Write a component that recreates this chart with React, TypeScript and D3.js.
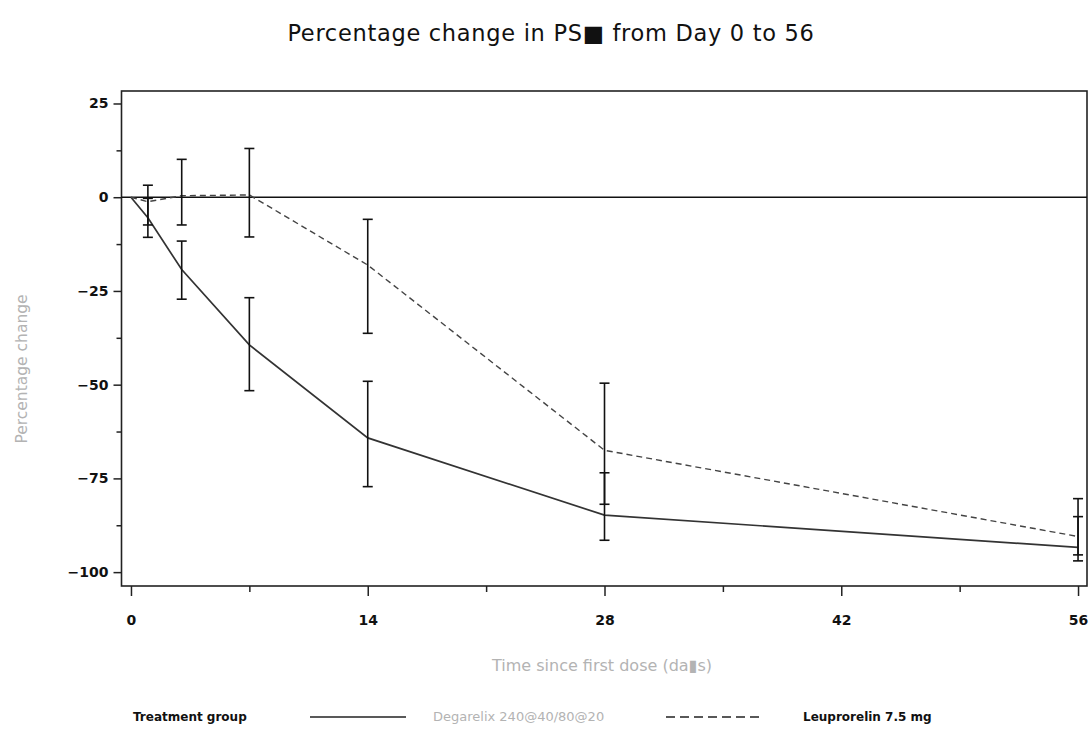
import { useEffect, useRef } from 'react';
import * as d3 from 'd3';

// data
const days = [0, 1, 3, 7, 14, 28, 56];

const degMean = [0, -5.5, -19.3, -39.4, -64.2, -84.8, -93.4];
const degLow = [null, -10.7, -27.2, -51.6, -77.2, -91.5, -97.0];
const degHigh = [null, -0.3, -11.7, -26.8, -49.1, -73.5, -85.2];

const leuMean = [0, -1.2, 0.4, 0.6, -18.1, -67.5, -90.5];
const leuLow = [null, -7.4, -7.4, -10.6, -36.3, -81.9, -95.4];
const leuHigh = [null, 3.2, 10.1, 13.0, -5.9, -49.6, -80.4];

const xTicks = [0, 14, 28, 42, 56];
const xMinorTicks = [7, 21, 35, 49];
const yTicks = [-100, -75, -50, -25, 0, 25];
const yMinorTicks = [-87.5, -62.5, -37.5, -12.5, 12.5];

const title = 'Percentage change in PS\u25A0 from Day 0 to 56';
const xLabel = 'Time since first dose (da\u25AEs)';
const yLabel = 'Percentage change';
const legendTitle = 'Treatment group';
const seriesNames = ['Degarelix 240@40/80@20', 'Leuprorelin 7.5 mg'];

const FONT = '"DejaVu Sans", sans-serif';

function App() {
  const svgRef = useRef<SVGSVGElement>(null);

  useEffect(() => {
    const W = 1090,
      H = 729;
    const plot = { left: 121.5, right: 1087, top: 91, bottom: 586 };

    const svg = d3.select(svgRef.current);
    svg.selectAll('*').remove();
    svg.attr('width', W).attr('height', H);

    const x = d3.scaleLinear().domain([-0.56, 56.53]).range([plot.left, plot.right]);
    const y = d3.scaleLinear().domain([-103.7, 28.33]).range([plot.bottom, plot.top]);

    // title
    svg
      .append('text')
      .attr('x', 551)
      .attr('y', 41)
      .attr('text-anchor', 'middle')
      .style('font-family', FONT)
      .style('font-size', '22.5px')
      .style('letter-spacing', '0.7px')
      .attr('fill', '#111')
      .text(title);

    // y axis
    const yAxis = svg
      .append('g')
      .attr('transform', `translate(${plot.left}, 0)`)
      .call(d3.axisLeft(y).tickValues(yTicks).tickSize(8).tickPadding(5).tickSizeOuter(0));
    const yMinor = svg
      .append('g')
      .attr('transform', `translate(${plot.left}, 0)`)
      .call(d3.axisLeft(y).tickValues(yMinorTicks).tickSize(5).tickFormat(() => '').tickSizeOuter(0));

    // x axis
    const xAxis = svg
      .append('g')
      .attr('transform', `translate(0, ${plot.bottom})`)
      .call(d3.axisBottom(x).tickValues(xTicks).tickSize(10).tickPadding(19).tickSizeOuter(0));
    const xMinor = svg
      .append('g')
      .attr('transform', `translate(0, ${plot.bottom})`)
      .call(d3.axisBottom(x).tickValues(xMinorTicks).tickSize(6).tickFormat(() => '').tickSizeOuter(0));

    [yAxis, yMinor, xAxis, xMinor].forEach((g) => {
      g.select('.domain').remove();
      g.selectAll('line').attr('stroke', '#222').attr('stroke-width', 1.5);
      g.selectAll('text')
        .style('font-family', FONT)
        .style('font-size', '14px')
        .style('font-weight', 'bold')
        .attr('fill', '#111');
    });

    // frame
    svg
      .append('rect')
      .attr('x', plot.left)
      .attr('y', plot.top)
      .attr('width', plot.right - plot.left)
      .attr('height', plot.bottom - plot.top)
      .attr('fill', 'none')
      .attr('stroke', '#222')
      .attr('stroke-width', 1.6);

    // zero reference line
    svg
      .append('line')
      .attr('x1', plot.left)
      .attr('x2', plot.right)
      .attr('y1', y(0))
      .attr('y2', y(0))
      .attr('stroke', '#111')
      .attr('stroke-width', 1.5);

    // axis labels
    svg
      .append('text')
      .attr('x', 602)
      .attr('y', 671)
      .attr('text-anchor', 'middle')
      .style('font-family', FONT)
      .style('font-size', '16px')
      .attr('fill', '#b3b3b3')
      .text(xLabel);

    svg
      .append('text')
      .attr('transform', `translate(27, 369) rotate(-90)`)
      .attr('text-anchor', 'middle')
      .style('font-family', FONT)
      .style('font-size', '15.5px')
      .attr('fill', '#b3b3b3')
      .text(yLabel);

    const series = [
      { mean: degMean, low: degLow, high: degHigh, dash: null, color: '#333', width: 1.7 },
      { mean: leuMean, low: leuLow, high: leuHigh, dash: '6,4', color: '#444', width: 1.4 },
    ];

    series.forEach((s) => {
      const pts = days.map((d, i) => ({ d, v: s.mean[i] }));
      const line = d3
        .line<{ d: number; v: number }>()
        .x((p) => x(p.d))
        .y((p) => y(p.v));
      svg
        .append('path')
        .datum(pts)
        .attr('d', line)
        .attr('fill', 'none')
        .attr('stroke', s.color)
        .attr('stroke-width', s.width)
        .attr('stroke-dasharray', s.dash);

      const bars = days
        .map((d, i) => ({ d, lo: s.low[i], hi: s.high[i] }))
        .filter((b) => b.lo !== null && b.hi !== null) as { d: number; lo: number; hi: number }[];

      const g = svg.append('g').attr('stroke', '#111').attr('stroke-width', 1.6);
      bars.forEach((b) => {
        const cx = x(b.d);
        g.append('line').attr('x1', cx).attr('x2', cx).attr('y1', y(b.lo)).attr('y2', y(b.hi));
        g.append('line').attr('x1', cx - 5).attr('x2', cx + 5).attr('y1', y(b.lo)).attr('y2', y(b.lo));
        g.append('line').attr('x1', cx - 5).attr('x2', cx + 5).attr('y1', y(b.hi)).attr('y2', y(b.hi));
      });
    });

    // legend
    const ly = 717;
    svg
      .append('text')
      .attr('x', 133)
      .attr('y', ly + 4)
      .style('font-family', FONT)
      .style('font-size', '12px')
      .style('font-weight', 'bold')
      .attr('fill', '#111')
      .text(legendTitle);

    svg
      .append('line')
      .attr('x1', 310)
      .attr('x2', 406)
      .attr('y1', ly)
      .attr('y2', ly)
      .attr('stroke', '#222')
      .attr('stroke-width', 1.6);
    svg
      .append('text')
      .attr('x', 433)
      .attr('y', ly + 4)
      .style('font-family', FONT)
      .style('font-size', '13px')
      .attr('fill', '#b3b3b3')
      .text(seriesNames[0]);

    svg
      .append('line')
      .attr('x1', 666)
      .attr('x2', 759)
      .attr('y1', ly)
      .attr('y2', ly)
      .attr('stroke', '#222')
      .attr('stroke-width', 1.6)
      .attr('stroke-dasharray', '9,5');
    svg
      .append('text')
      .attr('x', 803)
      .attr('y', ly + 4)
      .style('font-family', FONT)
      .style('font-size', '12px')
      .style('font-weight', 'bold')
      .attr('fill', '#111')
      .text(seriesNames[1]);
  }, []);

  return (
    <div style={{ position: 'absolute', left: 0, top: 0, background: '#fff' }}>
      <svg ref={svgRef} style={{ display: 'block' }}></svg>
    </div>
  );
}

export default App;
